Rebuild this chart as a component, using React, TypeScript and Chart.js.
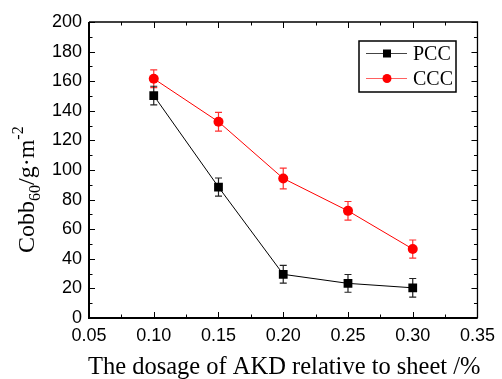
import React, { useEffect, useRef } from "react";
import { Chart, registerables } from "chart.js";

Chart.register(...registerables);

const dosages = [0.1, 0.15, 0.2, 0.25, 0.3];
const pccValues = [150.3, 88.5, 29.5, 23.4, 20.4];
const pccErrors = [6.3, 6.1, 6.0, 6.0, 6.3];
const cccValues = [161.7, 132.6, 94.3, 72.4, 46.6];
const cccErrors = [6.0, 6.3, 7.0, 6.3, 6.1];
const seriesNames = ["PCC", "CCC"];
const xTitle = "The dosage of AKD relative to sheet /%";

const SERIF = "'Liberation Serif', 'Times New Roman', serif";
const SANS = "'Liberation Sans', Arial, sans-serif";

const framePlugin = {
  id: "framePlugin",
  beforeDatasetsDraw(chart: any) {
    const { ctx } = chart;
    const xs = chart.scales.x;
    const ys = chart.scales.y;
    ctx.save();
    const drawErr = (vals: number[], errs: number[], color: string) => {
      ctx.strokeStyle = color;
      ctx.lineWidth = 1.2;
      vals.forEach((v, i) => {
        const px = xs.getPixelForValue(dosages[i]);
        const pt = ys.getPixelForValue(v + errs[i]);
        const pb = ys.getPixelForValue(v - errs[i]);
        ctx.beginPath();
        ctx.moveTo(px, pt);
        ctx.lineTo(px, pb);
        ctx.moveTo(px - 3.5, pt);
        ctx.lineTo(px + 3.5, pt);
        ctx.moveTo(px - 3.5, pb);
        ctx.lineTo(px + 3.5, pb);
        ctx.stroke();
      });
    };
    drawErr(cccValues, cccErrors, "#ff3030");
    drawErr(pccValues, pccErrors, "#222222");
    ctx.restore();
  },
  afterDraw(chart: any) {
    const { ctx, chartArea } = chart;
    const { left, right, top, bottom } = chartArea;
    const xs = chart.scales.x;
    const ys = chart.scales.y;
    ctx.save();
    ctx.strokeStyle = "#000";
    ctx.lineWidth = 1.3;
    ctx.beginPath();
    ctx.moveTo(left, top);
    ctx.lineTo(right, top);
    ctx.lineTo(right, bottom);
    ctx.stroke();
    ctx.lineWidth = 2;
    ctx.beginPath();
    ctx.moveTo(left, top);
    ctx.lineTo(left, bottom);
    ctx.lineTo(right, bottom);
    ctx.stroke();
    ctx.lineWidth = 1;
    ctx.beginPath();
    for (let k = 0; k <= 12; k++) {
      const v = 0.05 + k * 0.025;
      const px = Math.round(xs.getPixelForValue(v)) + 0.5;
      const len = k % 2 === 0 ? 6 : 3.5;
      ctx.moveTo(px, bottom);
      ctx.lineTo(px, bottom - len);
      ctx.moveTo(px, top);
      ctx.lineTo(px, top + len);
    }
    for (let k = 0; k <= 20; k++) {
      const v = k * 10;
      const py = Math.round(ys.getPixelForValue(v)) + 0.5;
      const len = k % 2 === 0 ? 6 : 3.5;
      ctx.moveTo(left, py);
      ctx.lineTo(left + len, py);
      ctx.moveTo(right, py);
      ctx.lineTo(right - len, py);
    }
    ctx.stroke();

    ctx.fillStyle = "#000";
    ctx.font = `24.5px ${SERIF}`;
    ctx.textAlign = "center";
    ctx.textBaseline = "alphabetic";
    ctx.fillText(xTitle, (left + right) / 2 + 1, 374);

    ctx.save();
    ctx.translate(34, 253);
    ctx.rotate(-Math.PI / 2);
    ctx.textAlign = "left";
    let cx = 0;
    const big = `24px ${SERIF}`;
    const small = `16px ${SERIF}`;
    const parts: [string, string, number][] = [
      ["Cobb", big, 0],
      ["60", small, 6],
      ["/g\u00b7m", big, 0],
      ["-2", small, -11],
    ];
    for (const [t, f, dy] of parts) {
      ctx.font = f;
      ctx.fillText(t, cx, dy);
      cx += ctx.measureText(t).width;
    }
    ctx.restore();

    const lx = 359, ly = 41, lw = 97, lh = 51;
    ctx.lineWidth = 1.5;
    ctx.strokeStyle = "#000";
    ctx.strokeRect(lx, ly, lw, lh);
    const rows = [
      { name: seriesNames[0], y: 53.5, line: "#444", fill: "#000", shape: "rect" },
      { name: seriesNames[1], y: 78.5, line: "#ff6060", fill: "#ff0000", shape: "circle" },
    ];
    ctx.font = `20px ${SERIF}`;
    ctx.textAlign = "left";
    ctx.textBaseline = "middle";
    for (const r of rows) {
      ctx.strokeStyle = r.line;
      ctx.lineWidth = 1;
      ctx.beginPath();
      ctx.moveTo(366, r.y);
      ctx.lineTo(407, r.y);
      ctx.stroke();
      ctx.fillStyle = r.fill;
      if (r.shape === "rect") {
        ctx.fillRect(383, r.y - 4, 8, 8);
      } else {
        ctx.beginPath();
        ctx.arc(387, r.y, 4.5, 0, Math.PI * 2);
        ctx.fill();
      }
      ctx.fillStyle = "#000";
      ctx.fillText(r.name, 413, r.y + 1);
    }
    ctx.restore();
  },
};

export default function App() {
  const ref = useRef<HTMLCanvasElement | null>(null);
  useEffect(() => {
    document.body.style.margin = "0";
    const canvas = ref.current;
    if (!canvas) return;
    const chart = new Chart(canvas, {
      type: "line",
      data: {
        datasets: [
          {
            label: seriesNames[0],
            data: dosages.map((x, i) => ({ x, y: pccValues[i] })),
            borderColor: "#000",
            backgroundColor: "#000",
            borderWidth: 1,
            pointStyle: "rect",
            pointRadius: 6.2,
            pointBorderWidth: 0,
            tension: 0,
          },
          {
            label: seriesNames[1],
            data: dosages.map((x, i) => ({ x, y: cccValues[i] })),
            borderColor: "#ff0000",
            backgroundColor: "#ff0000",
            borderWidth: 1,
            pointStyle: "circle",
            pointRadius: 5,
            pointBorderWidth: 0,
            tension: 0,
          },
        ],
      },
      plugins: [framePlugin],
      options: {
        responsive: false,
        animation: false,
        layout: { padding: { left: 0, right: 20, top: 22, bottom: 0 } },
        plugins: { legend: { display: false }, tooltip: { enabled: false } },
        scales: {
          x: {
            type: "linear",
            min: 0.05,
            max: 0.35,
            grid: { display: false, drawTicks: false },
            border: { display: false },
            ticks: {
              stepSize: 0.05,
              padding: 7,
              color: "#000",
              font: { family: SANS, size: 18 },
              callback: (v: any) => Number(v).toFixed(2),
              maxRotation: 0,
              autoSkip: false,
            },
            afterFit: (s: any) => {
              s.height = 61;
            },
          },
          y: {
            type: "linear",
            min: 0,
            max: 200,
            grid: { display: false, drawTicks: false },
            border: { display: false },
            ticks: {
              stepSize: 20,
              padding: 7,
              color: "#000",
              font: { family: SANS, size: 18 },
            },
            afterFit: (s: any) => {
              s.width = 89;
            },
          },
        },
      },
    } as any);
    return () => chart.destroy();
  }, []);
  return (
    <div style={{ width: 502, height: 379 }}>
      <canvas ref={ref} width={502} height={379} style={{ display: "block" }} />
    </div>
  );
}
